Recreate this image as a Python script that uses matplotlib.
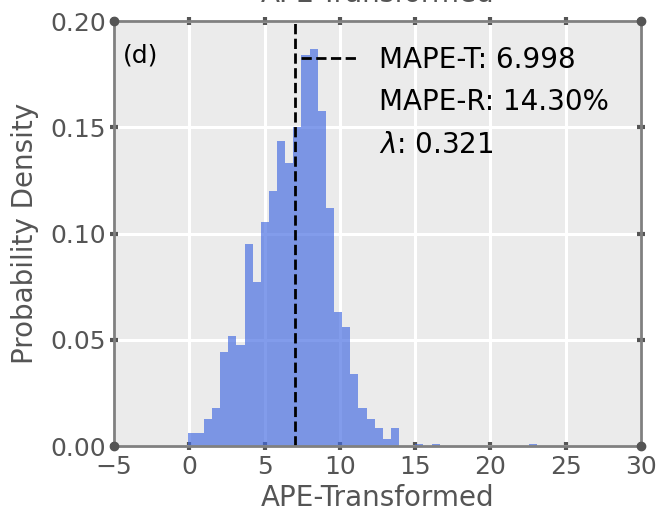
import numpy as np
import matplotlib
matplotlib.use('Agg')
import matplotlib.pyplot as plt
from matplotlib.lines import Line2D

# histogram (density per bin)
bin_start = -0.11
bin_width = 0.54
density = [0.0064, 0.0064, 0.0128, 0.0180, 0.0445, 0.0519, 0.0478, 0.0951,
           0.0771, 0.1056, 0.1202, 0.1437, 0.1331, 0.1500, 0.1840, 0.1867,
           0.1577, 0.1119, 0.0633, 0.0562, 0.0340, 0.0179, 0.0127, 0.0085,
           0.0033, 0.0085, 0.0, 0.0, 0.0011, 0.0, 0.0011, 0.0, 0.0, 0.0,
           0.0, 0.0, 0.0, 0.0, 0.0, 0.0, 0.0, 0.0, 0.0011]
mape_t = 6.998
mape_r = 14.30
lam = 0.321
xticks = [-5, 0, 5, 10, 15, 20, 25, 30]
yticks = [0.00, 0.05, 0.10, 0.15, 0.20]

edges = bin_start + bin_width * np.arange(len(density) + 1)
gray = '#555555'

fig = plt.figure(figsize=(6.64, 5.2), dpi=100)
ax = fig.add_axes([0.1717, 0.1417, 0.7937, 0.8179])
ax.set_facecolor('#ebebeb')
ax.set_axisbelow(True)
ax.grid(True, color='white', linewidth=2.2)

ax.bar(edges[:-1], density, width=bin_width, align='edge',
       color='royalblue', alpha=0.66, linewidth=0)
ax.axvline(mape_t, color='black', linestyle='--', linewidth=2)

ax.set_xlim(-5, 30)
ax.set_ylim(0, 0.20)
ax.set_xticks(xticks)
ax.set_yticks(yticks)
ax.set_yticklabels(['%.2f' % v for v in yticks])
ax.tick_params(direction='inout', length=6, width=3, color=gray,
               labelcolor=gray, labelsize=18, pad=3,
               top=True, right=True)
for sp in ax.spines.values():
    sp.set_color('#808080')
    sp.set_linewidth(2)
ax.plot([0, 1, 0, 1], [0, 0, 1, 1], 'o', color=gray, markersize=6,
        transform=ax.transAxes, clip_on=False, zorder=5)

ax.set_xlabel('APE-Transformed', fontsize=20, color=gray, labelpad=4)
ax.set_ylabel('Probability Density', fontsize=20, color=gray, labelpad=8)
ax.set_title('APE-Transformed', fontsize=20, color=gray, pad=14)
ax.text(0.017, 0.92, '(d)', transform=ax.transAxes, fontsize=18,
        va='center', ha='left')

handles = [Line2D([], [], color='black', linestyle='--', linewidth=2),
           Line2D([], [], linestyle='none'),
           Line2D([], [], linestyle='none')]
labels = ['MAPE-T: %.3f' % mape_t, 'MAPE-R: %.2f%%' % mape_r,
          r'$\lambda$: %.3f' % lam]
ax.legend(handles, labels, loc='upper right', bbox_to_anchor=(1, 1.017),
          frameon=False, fontsize=20, labelspacing=0.52, handlelength=2,
          handletextpad=0.8, borderaxespad=0.75)

fig.savefig('out.png', dpi=100)
